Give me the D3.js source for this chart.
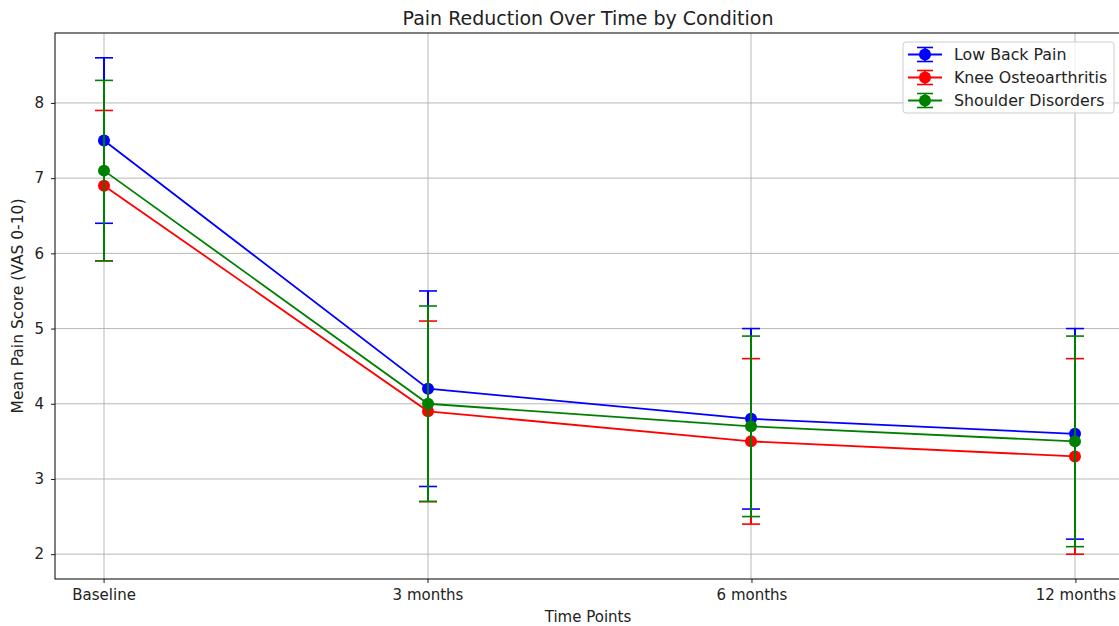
<!DOCTYPE html>
<html>
<head>
<meta charset="utf-8">
<script src="https://cdn.jsdelivr.net/npm/d3@7"></script>
<style>
  body { margin: 0; background: #fff; }
  svg { font-family: "DejaVu Sans", sans-serif; }
</style>
</head>
<body>
<div id="chart"></div>
<script>
(function () {
"use strict";

// Data
var timePoints = ["Baseline", "3 months", "6 months", "12 months"];
var conditions = ["Low Back Pain", "Knee Osteoarthritis", "Shoulder Disorders"];
var colors = ["#0000ff", "#ff0000", "#008000"];
var lowBackMean = [7.5, 4.2, 3.8, 3.6];
var lowBackErr = [1.1, 1.3, 1.2, 1.4];
var kneeMean = [6.9, 3.9, 3.5, 3.3];
var kneeErr = [1.0, 1.2, 1.1, 1.3];
var shoulderMean = [7.1, 4.0, 3.7, 3.5];
var shoulderErr = [1.2, 1.3, 1.2, 1.4];
var yTicks = [2, 3, 4, 5, 6, 7, 8];

var series = [
  { name: conditions[0], color: colors[0], mean: lowBackMean, err: lowBackErr },
  { name: conditions[1], color: colors[1], mean: kneeMean, err: kneeErr },
  { name: conditions[2], color: colors[2], mean: shoulderMean, err: shoulderErr }
];

var fullWidth = 1119, fullHeight = 626;
var plot = { left: 55, top: 33, right: 1124, bottom: 579 };

var xScale = d3.scaleLinear()
  .domain([-0.15, 3.15])
  .range([plot.left, plot.right]);

var yScale = d3.scaleLinear()
  .domain([1.67, 8.93])
  .range([plot.bottom, plot.top]);

// snap to whole pixels so overlapping error bars don't blend
function px(i) { return Math.round(xScale(i)); }

var svg = d3.select("#chart").append("svg")
  .attr("width", fullWidth)
  .attr("height", fullHeight)
  .attr("viewBox", "0 0 " + fullWidth + " " + fullHeight);

// Grid
var grid = svg.append("g").attr("class", "grid");
grid.selectAll(".hgrid")
  .data(yTicks)
  .enter().append("line")
    .attr("x1", plot.left).attr("x2", plot.right)
    .attr("y1", function(d) { return yScale(d); })
    .attr("y2", function(d) { return yScale(d); })
    .style("stroke", "#b0b0b0").style("stroke-width", 0.9);
grid.selectAll(".vgrid")
  .data(d3.range(timePoints.length))
  .enter().append("line")
    .attr("x1", function(d) { return px(d); })
    .attr("x2", function(d) { return px(d); })
    .attr("y1", plot.top).attr("y2", plot.bottom)
    .style("stroke", "#b0b0b0").style("stroke-width", 0.9);

// Axes
var xAxis = d3.axisBottom(xScale)
  .tickValues(d3.range(timePoints.length))
  .tickFormat(function(d) { return timePoints[d]; })
  .tickSize(4).tickSizeOuter(0).tickPadding(6);
var yAxis = d3.axisLeft(yScale)
  .tickValues(yTicks)
  .tickFormat(d3.format("d"))
  .tickSize(4).tickSizeOuter(0).tickPadding(7);

var gx = svg.append("g")
  .attr("transform", "translate(0," + plot.bottom + ")")
  .call(xAxis);
var gy = svg.append("g")
  .attr("transform", "translate(" + plot.left + ",0)")
  .call(yAxis);
[gx, gy].forEach(function(g) {
  g.select(".domain").remove();
  g.selectAll(".tick line").style("stroke", "#000").style("stroke-width", 0.9);
  g.selectAll(".tick text")
    .style("font-family", "'DejaVu Sans', sans-serif")
    .style("font-size", "15px")
    .style("fill", "#222");
});

// Spines (right spine falls outside the picture)
svg.append("rect")
  .attr("x", plot.left).attr("y", plot.top)
  .attr("width", plot.right - plot.left)
  .attr("height", plot.bottom - plot.top)
  .style("fill", "none")
  .style("stroke", "#000")
  .style("stroke-width", 1);

// Series
var capHalf = 9;
var line = d3.line()
  .x(function(d, i) { return px(i); })
  .y(function(d) { return yScale(d); });

series.forEach(function(s) {
  var g = svg.append("g");
  var pts = s.mean.map(function(m, i) { return { i: i, m: m, e: s.err[i] }; });

  g.append("path")
    .datum(s.mean)
    .attr("d", line)
    .style("fill", "none")
    .style("stroke", s.color)
    .style("stroke-width", 1.8);

  g.selectAll(".bar")
    .data(pts)
    .enter().append("line")
      .attr("x1", function(d) { return px(d.i); })
      .attr("x2", function(d) { return px(d.i); })
      .attr("y1", function(d) { return yScale(d.m - d.e); })
      .attr("y2", function(d) { return yScale(d.m + d.e); })
      .style("stroke", s.color).style("stroke-width", 2);

  [-1, 1].forEach(function(sign) {
    g.selectAll(".cap" + sign)
      .data(pts)
      .enter().append("line")
        .attr("x1", function(d) { return px(d.i) - capHalf; })
        .attr("x2", function(d) { return px(d.i) + capHalf; })
        .attr("y1", function(d) { return yScale(d.m + sign * d.e); })
        .attr("y2", function(d) { return yScale(d.m + sign * d.e); })
        .style("stroke", s.color).style("stroke-width", 1.6);
  });

  g.selectAll(".dot")
    .data(pts)
    .enter().append("circle")
      .attr("cx", function(d) { return px(d.i); })
      .attr("cy", function(d) { return yScale(d.m); })
      .attr("r", 6)
      .style("fill", s.color);
});

// Title and labels
svg.append("text")
  .attr("x", 588)
  .attr("y", 25)
  .style("text-anchor", "middle")
  .style("font-size", "19px")
  .style("fill", "#222")
  .text("Pain Reduction Over Time by Condition");

svg.append("text")
  .attr("x", 588)
  .attr("y", 622)
  .style("text-anchor", "middle")
  .style("font-size", "15px")
  .style("fill", "#222")
  .text("Time Points");

svg.append("text")
  .attr("transform", "translate(23," + ((plot.top + plot.bottom) / 2) + ") rotate(-90)")
  .style("text-anchor", "middle")
  .style("font-size", "15.5px")
  .style("fill", "#222")
  .text("Mean Pain Score (VAS 0-10)");

// Legend
var legend = svg.append("g").attr("transform", "translate(903,42)");
legend.append("rect")
  .attr("width", 211).attr("height", 71)
  .attr("rx", 3)
  .style("fill", "#fff").style("fill-opacity", 0.8)
  .style("stroke", "#cccccc").style("stroke-width", 1);

var entry = legend.selectAll(".entry")
  .data(series)
  .enter().append("g")
    .attr("transform", function(d, i) { return "translate(0," + (12.5 + i * 23) + ")"; });
entry.append("line")
  .attr("x1", 5).attr("x2", 39).attr("y1", 0).attr("y2", 0)
  .style("stroke", function(d) { return d.color; }).style("stroke-width", 1.8);
entry.append("line")
  .attr("x1", 22).attr("x2", 22).attr("y1", -7).attr("y2", 7)
  .style("stroke", function(d) { return d.color; }).style("stroke-width", 1.8);
[-7, 7].forEach(function(dy) {
  entry.append("line")
    .attr("x1", 14).attr("x2", 30).attr("y1", dy).attr("y2", dy)
    .style("stroke", function(d) { return d.color; }).style("stroke-width", 1.6);
});
entry.append("circle")
  .attr("cx", 22).attr("cy", 0).attr("r", 6)
  .style("fill", function(d) { return d.color; });
entry.append("text")
  .attr("x", 51).attr("y", 0).attr("dy", "0.36em")
  .style("font-size", "15.8px")
  .style("fill", "#222")
  .text(function(d) { return d.name; });

})();
</script>
</body>
</html>
